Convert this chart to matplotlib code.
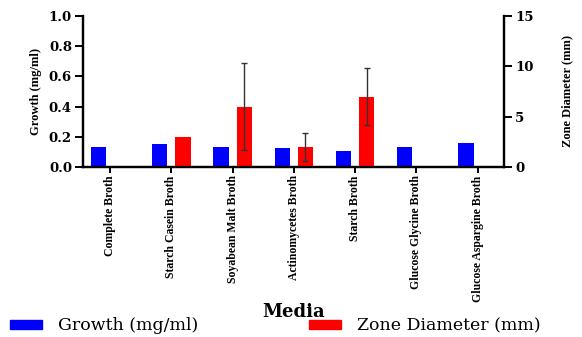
import matplotlib
matplotlib.use("Agg")
import matplotlib.pyplot as plt
import numpy as np

media = ['Complete Broth', 'Starch Casein Broth', 'Soyabean Malt Broth',
         'Actinomycetes Broth', 'Starch Broth', 'Glucose Glycine Broth',
         'Glucose Aspargine Broth']
growth = [0.134, 0.150, 0.134, 0.124, 0.108, 0.134, 0.157]
zone = [0, 3.0, 6.0, 2.0, 7.0, 0, 0]
zone_err = [0, 0, 4.3, 1.4, 2.8, 0, 0]

serif = 'Liberation Serif'
wide = 'DejaVu Serif'

fig = plt.figure(figsize=(5.82, 3.37), dpi=100)
ax = fig.add_axes([0.1426, 0.5045, 0.7234, 0.448])
ax2 = ax.twinx()

x = np.arange(len(media))
w = 0.25
off = 0.19
ax.bar(x - off, growth, width=w, color='#0000ff', zorder=2)
ax2.bar(x + off, zone, width=w, color='#ff0000', zorder=2)
# only draw error bars where there is a spread
has_err = [i for i in range(len(media)) if zone_err[i] > 0]
ax2.errorbar([x[i] + off for i in has_err], [zone[i] for i in has_err],
             yerr=[zone_err[i] for i in has_err], fmt='none',
             ecolor='#333333', elinewidth=1, capsize=2.5, capthick=1,
             zorder=3)

ax.set_xlim(-0.44, 6.43)
ax.set_ylim(0, 1.0)
ax2.set_ylim(0, 15)
ax.set_yticks([0, 0.2, 0.4, 0.6, 0.8, 1.0])
ax2.set_yticks([0, 5, 10, 15])
ax.set_xticks(x)
ax.set_xticklabels(media, rotation=90, fontfamily=serif, fontsize=8.5,
                   fontweight='bold')

for a in (ax, ax2):
    a.spines['top'].set_visible(False)
    for s in ('left', 'right', 'bottom'):
        a.spines[s].set_linewidth(1.6)
    a.tick_params(width=1.4, length=6, pad=2)

ax.set_yticklabels(['0.0', '0.2', '0.4', '0.6', '0.8', '1.0'],
                   fontfamily=wide, fontsize=9.5, fontweight='bold')
ax2.set_yticklabels(['0', '5', '10', '15'], fontfamily=wide, fontsize=9.5,
                    fontweight='bold')
ax.tick_params(axis='x', length=4)

ax.set_ylabel('Growth (mg/ml)', fontfamily=serif, fontsize=9,
              fontweight='bold', labelpad=5)
ax2.set_ylabel('Zone Diameter (mm)', fontfamily=serif, fontsize=9,
               fontweight='bold', labelpad=20)

fig.text(0.505, 0.075, 'Media', ha='center', va='center', fontfamily=wide,
         fontsize=13, fontweight='bold')

handles = [plt.Rectangle((0, 0), 1, 1, color='#0000ff'),
           plt.Rectangle((0, 0), 1, 1, color='#ff0000')]
fig.legend(handles, ['Growth (mg/ml)', 'Zone Diameter (mm)'],
           loc='center left', bbox_to_anchor=(10 / 582, 0.033), ncol=2,
           frameon=False, prop={'family': wide, 'size': 12.5},
           handlelength=1.84, handleheight=0.45, columnspacing=6.4,
           handletextpad=0.92, borderpad=0, borderaxespad=0)

fig.savefig('out.png', dpi=100)
